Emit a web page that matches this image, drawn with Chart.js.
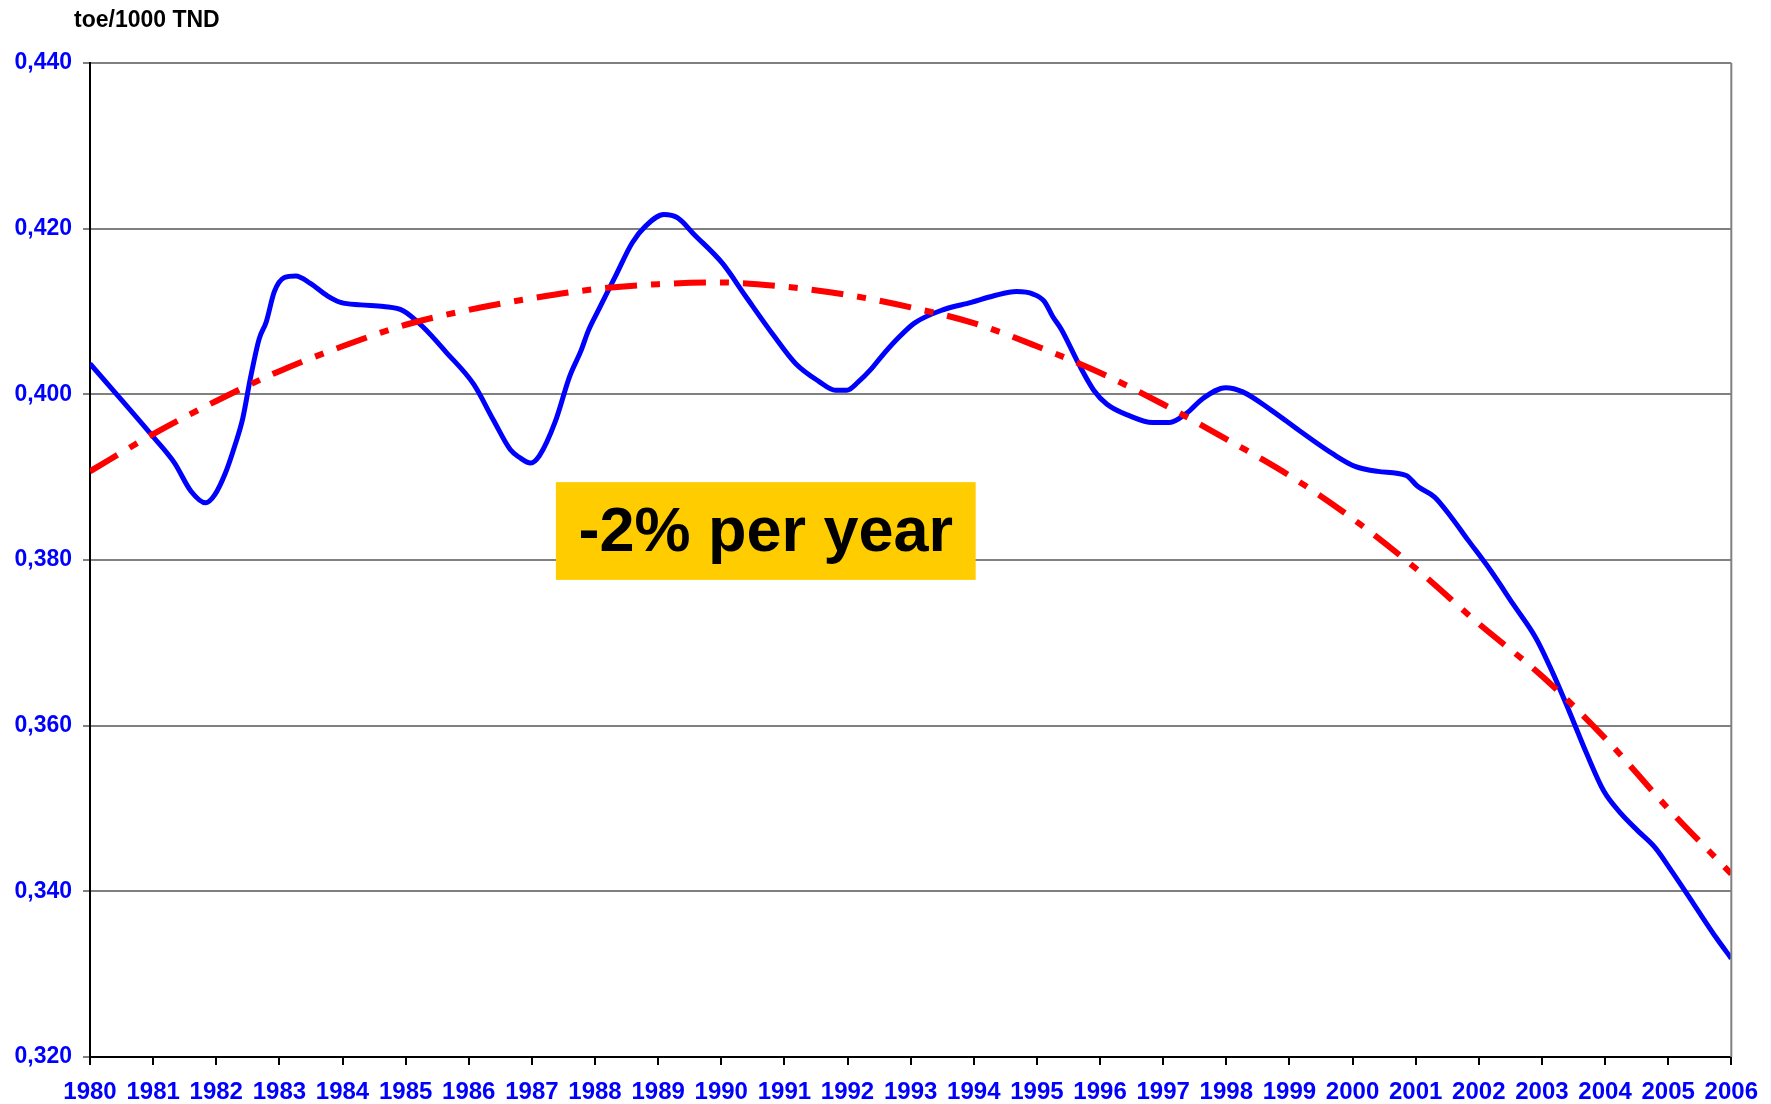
<!DOCTYPE html>
<html>
<head>
<meta charset="utf-8">
<script src="https://cdn.jsdelivr.net/npm/chart.js@4"></script>
<style>
  html, body { margin: 0; padding: 0; background: #fff; }
  #wrap { width: 1771px; height: 1104px; }
</style>
</head>
<body>
<div id="wrap"><canvas id="chart"></canvas></div>
<script>
// intensity curve
const intensityYears = [1980, 1981.02, 1981.34, 1981.6, 1981.83, 1981.97, 1982.15, 1982.29, 1982.42, 1982.54,
  1982.68, 1982.79, 1982.92, 1983.08, 1983.26, 1983.49, 1983.76, 1983.97, 1984.29, 1984.65,
  1984.96, 1985.28, 1985.64, 1986.08, 1986.39, 1986.66, 1986.8, 1986.98, 1987.12, 1987.37,
  1987.6, 1987.78, 1987.89, 1988.05, 1988.32, 1988.59, 1988.8, 1989.09, 1989.31, 1989.57,
  1990.02, 1990.38, 1990.83, 1991.18, 1991.54, 1991.81, 1991.99, 1992.17, 1992.38, 1992.53,
  1992.79, 1993.06, 1993.51, 1993.96, 1994.32, 1994.68, 1994.94, 1995.12, 1995.25, 1995.39,
  1995.66, 1995.9, 1996.11, 1996.47, 1996.83, 1997.1, 1997.37, 1997.63, 1997.99, 1998.26,
  1998.71, 1999.16, 1999.69, 2000.04, 2000.4, 2000.85, 2001.03, 2001.3, 2001.57, 2001.83,
  2002.19, 2002.55, 2002.91, 2003.17, 2003.44, 2003.71, 2003.98, 2004.25, 2004.52, 2004.79,
  2005.05, 2005.41, 2005.77, 2006];
const intensityValues = [0.4037, 0.3947, 0.3917, 0.3883, 0.3869, 0.3878, 0.3906, 0.3937, 0.3971, 0.4019,
  0.4067, 0.4087, 0.4124, 0.4141, 0.4143, 0.4134, 0.4119, 0.4111, 0.4108, 0.4106,
  0.4101, 0.4081, 0.4051, 0.4012, 0.3969, 0.3933, 0.3924, 0.3917, 0.3926, 0.3967,
  0.4022, 0.4053, 0.4076, 0.4101, 0.4142, 0.4183, 0.4203, 0.4217, 0.4213, 0.4193,
  0.4158, 0.4119, 0.4071, 0.4037, 0.4016, 0.4005, 0.4005, 0.4015, 0.4031, 0.4045,
  0.4067, 0.4086, 0.4102, 0.4111, 0.4119, 0.4124, 0.4121, 0.4112, 0.4094, 0.4078,
  0.4037, 0.4005, 0.3988, 0.3974, 0.3966, 0.3966, 0.3977, 0.3995, 0.4008, 0.4003,
  0.3981, 0.3956, 0.3928, 0.3913, 0.3907, 0.3902, 0.3889, 0.3876, 0.3851, 0.3824,
  0.3787, 0.3746, 0.3705, 0.3664, 0.3616, 0.3566, 0.3521, 0.3494, 0.3473, 0.3453,
  0.3425, 0.3384, 0.3343, 0.3319];

// trend line
const trendYears = [1980, 1981, 1982, 1983, 1984, 1985, 1986, 1987, 1988, 1989, 1990, 1991, 1992,
  1993, 1994, 1995, 1996, 1997, 1998, 1999, 2000, 2001, 2002, 2003, 2004, 2005, 2006];
const trendValues = [0.3907, 0.3952, 0.3992, 0.4028, 0.4058, 0.4084, 0.4102, 0.4116, 0.4127, 0.4133,
  0.4135, 0.4130, 0.4120, 0.4105, 0.4086, 0.4058, 0.4026, 0.3988, 0.3946, 0.3902, 0.3850, 0.3790,
  0.3723, 0.3660, 0.3585, 0.3500, 0.3421];

const unitLabel = 'toe/1000 TND';
const noteText = '-2% per year';

function toPoints(xs, ys) {
    return xs.map((x, i) => ({ x: x, y: ys[i] }));
}

const extras = {
    id: 'extras',
    afterDraw(chart) {
        const c = chart.ctx;
        const a = chart.chartArea;
        const xs = chart.scales.x;
        const ys = chart.scales.y;
        c.save();
        // right frame line
        c.strokeStyle = '#808080';
        c.lineWidth = 2;
        c.beginPath();
        c.moveTo(a.right, a.top);
        c.lineTo(a.right, a.bottom);
        c.stroke();
        // unit
        c.fillStyle = '#000';
        c.font = 'bold 23px "Liberation Sans", Arial, sans-serif';
        c.textBaseline = 'alphabetic';
        c.textAlign = 'left';
        c.fillText(unitLabel, 74, 27);
        // yellow note box
        const x0 = xs.getPixelForValue(1987.38);
        const x1 = xs.getPixelForValue(1994.03);
        const y0 = ys.getPixelForValue(0.3894);
        const y1 = ys.getPixelForValue(0.3776);
        c.fillStyle = '#FFCC00';
        c.fillRect(x0, y0, x1 - x0, y1 - y0);
        c.fillStyle = '#000';
        c.font = 'bold 63px "Liberation Sans", Arial, sans-serif';
        c.textAlign = 'center';
        c.textBaseline = 'middle';
        c.fillText(noteText, (x0 + x1) / 2, (y0 + y1) / 2 + 3);
        c.restore();
    }
};

new Chart(document.getElementById('chart'), {
    type: 'line',
    data: {
        datasets: [
            {
                data: toPoints(trendYears, trendValues),
                borderColor: '#FF0000',
                borderWidth: 6,
                borderDash: [32, 14, 9, 14],
                pointRadius: 0,
                cubicInterpolationMode: 'monotone',
                order: 0
            },
            {
                data: toPoints(intensityYears, intensityValues),
                borderColor: '#0000FF',
                borderWidth: 5,
                pointRadius: 0,
                cubicInterpolationMode: 'monotone',
                order: 1
            }
        ]
    },
    options: {
        responsive: true,
        maintainAspectRatio: false,
        animation: false,
        layout: { padding: { top: 63, right: 39, left: 0, bottom: 0 } },
        plugins: {
            legend: { display: false },
            tooltip: { enabled: false }
        },
        scales: {
            x: {
                type: 'linear',
                min: 1980,
                max: 2006,
                afterFit(scale) { scale.height = 47; },
                ticks: {
                    stepSize: 1,
                    autoSkip: false,
                    maxRotation: 0,
                    padding: 13,
                    color: '#0000FF',
                    font: { family: '"Liberation Sans", Arial, sans-serif', size: 24, weight: 'bold' },
                    callback: function(v) { return String(v); }
                },
                grid: { drawOnChartArea: false, drawTicks: true, tickLength: 8, color: '#000', lineWidth: 2 },
                border: { color: '#000', width: 2 }
            },
            y: {
                min: 0.32,
                max: 0.44,
                afterFit(scale) { scale.width = 90; },
                ticks: {
                    stepSize: 0.02,
                    padding: 11,
                    color: '#0000FF',
                    font: { family: '"Liberation Sans", Arial, sans-serif', size: 23, weight: 'bold' },
                    callback: function(v) { return v.toFixed(3).replace('.', ','); }
                },
                grid: { color: '#808080', lineWidth: 2, tickLength: 7 },
                border: { color: '#000', width: 2 }
            }
        }
    },
    plugins: [extras]
});
</script>
</body>
</html>
